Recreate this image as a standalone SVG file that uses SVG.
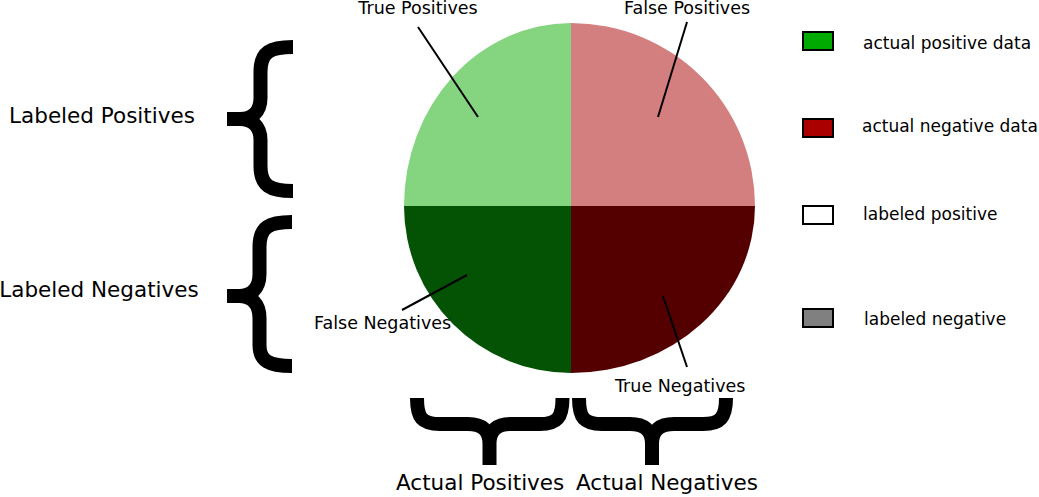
<svg xmlns="http://www.w3.org/2000/svg" width="1039" height="497" viewBox="0 0 1039 497">
<style>
text{font-family:"DejaVu Sans","Liberation Sans",sans-serif;fill:#000}
.small{font-size:17px}
.pie-label{font-size:17.5px}
.big{font-size:21.5px}
.brace{fill:none;stroke:#000;stroke-width:14;stroke-linejoin:bevel;stroke-linecap:butt}
.lead{stroke:#000;stroke-width:2;fill:none}
.key{stroke:#000;stroke-width:2}
</style>
<rect width="1039" height="497" fill="#fff"/>
<g id="pie">
<path id="true-positives" d="M571,206 L404,206 A167,183 0 0 1 571,23 Z" fill="#85d47f"/>
<path id="false-positives" d="M571,206 L571,23 A184,183 0 0 1 755,206 Z" fill="#d47f7f"/>
<path id="true-negatives" d="M571,206 L755,206 A184,167 0 0 1 571,373 Z" fill="#550000"/>
<path id="false-negatives" d="M571,206 L571,373 A167,167 0 0 1 404,206 Z" fill="#045304"/>
</g>
<g id="connectors">
<line class="lead" x1="418" y1="27" x2="478" y2="117"/>
<line class="lead" x1="687" y1="22" x2="658" y2="117"/>
<line class="lead" x1="402" y1="310" x2="467" y2="275"/>
<line class="lead" x1="663" y1="296" x2="687" y2="367"/>
</g>
<g id="labels">
<text class="pie-label" x="418" y="14" text-anchor="middle">True Positives</text>
<text class="pie-label" x="687" y="14" text-anchor="middle">False Positives</text>
<text class="pie-label" x="314" y="329">False Negatives</text>
<text class="pie-label" x="615" y="392">True Negatives</text>
</g>
<g id="braces">
<path id="brace-labeled-positives" class="brace" d="M293,47 C270,47 260.5,52 260.5,72 L260.5,98 C260.5,112 252,119 240,119 L227,119 L240,119 C252,119 260.5,126 260.5,140 L260.5,166 C260.5,186 270,191 293,191"/>
<path id="brace-labeled-negatives" class="brace" d="M292,222 C269,222 259.5,227 259.5,247 L259.5,274 C259.5,289 251,296 239,296 L227,296 L239,296 C251,296 259.5,303 259.5,318 L259.5,345 C259.5,361 269,366 292,366"/>
<path id="brace-actual-positives" class="brace" d="M417,398 C417,418 422,424 440,424 L468,424 C482,424 489.5,430 489.5,444 L489.5,465 L489.5,444 C489.5,430 497,424 511,424 L540,424 C557,424 562.5,418 562.5,398"/>
<path id="brace-actual-negatives" class="brace" d="M579,398 C579,418 584,424 602,424 L630,424 C644,424 652,430 652,444 L652,465 L652,444 C652,430 660,424 674,424 L703,424 C720,424 726,418 726,398"/>
</g>
<g id="axis-labels">
<text class="big" x="102" y="123" text-anchor="middle">Labeled Positives</text>
<text class="big" x="99" y="297" text-anchor="middle">Labeled Negatives</text>
<text class="big" x="396" y="490">Actual Positives</text>
<text class="big" x="576" y="490">Actual Negatives</text>
</g>
<g id="legend">
<g id="legend-actual-positive"><rect class="key" x="803" y="32" width="30" height="18" fill="#00aa00"/><text class="small" x="863" y="49">actual positive data</text></g>
<g id="legend-actual-negative"><rect class="key" x="803" y="119" width="30" height="18" fill="#aa0000"/><text class="small" x="862" y="132">actual negative data</text></g>
<g id="legend-labeled-positive"><rect class="key" x="803" y="206" width="30" height="18" fill="#ffffff"/><text class="small" x="863" y="220">labeled positive</text></g>
<g id="legend-labeled-negative"><rect class="key" x="803" y="309" width="30" height="18" fill="#808080"/><text class="small" x="864" y="325">labeled negative</text></g>
</g>
</svg>
